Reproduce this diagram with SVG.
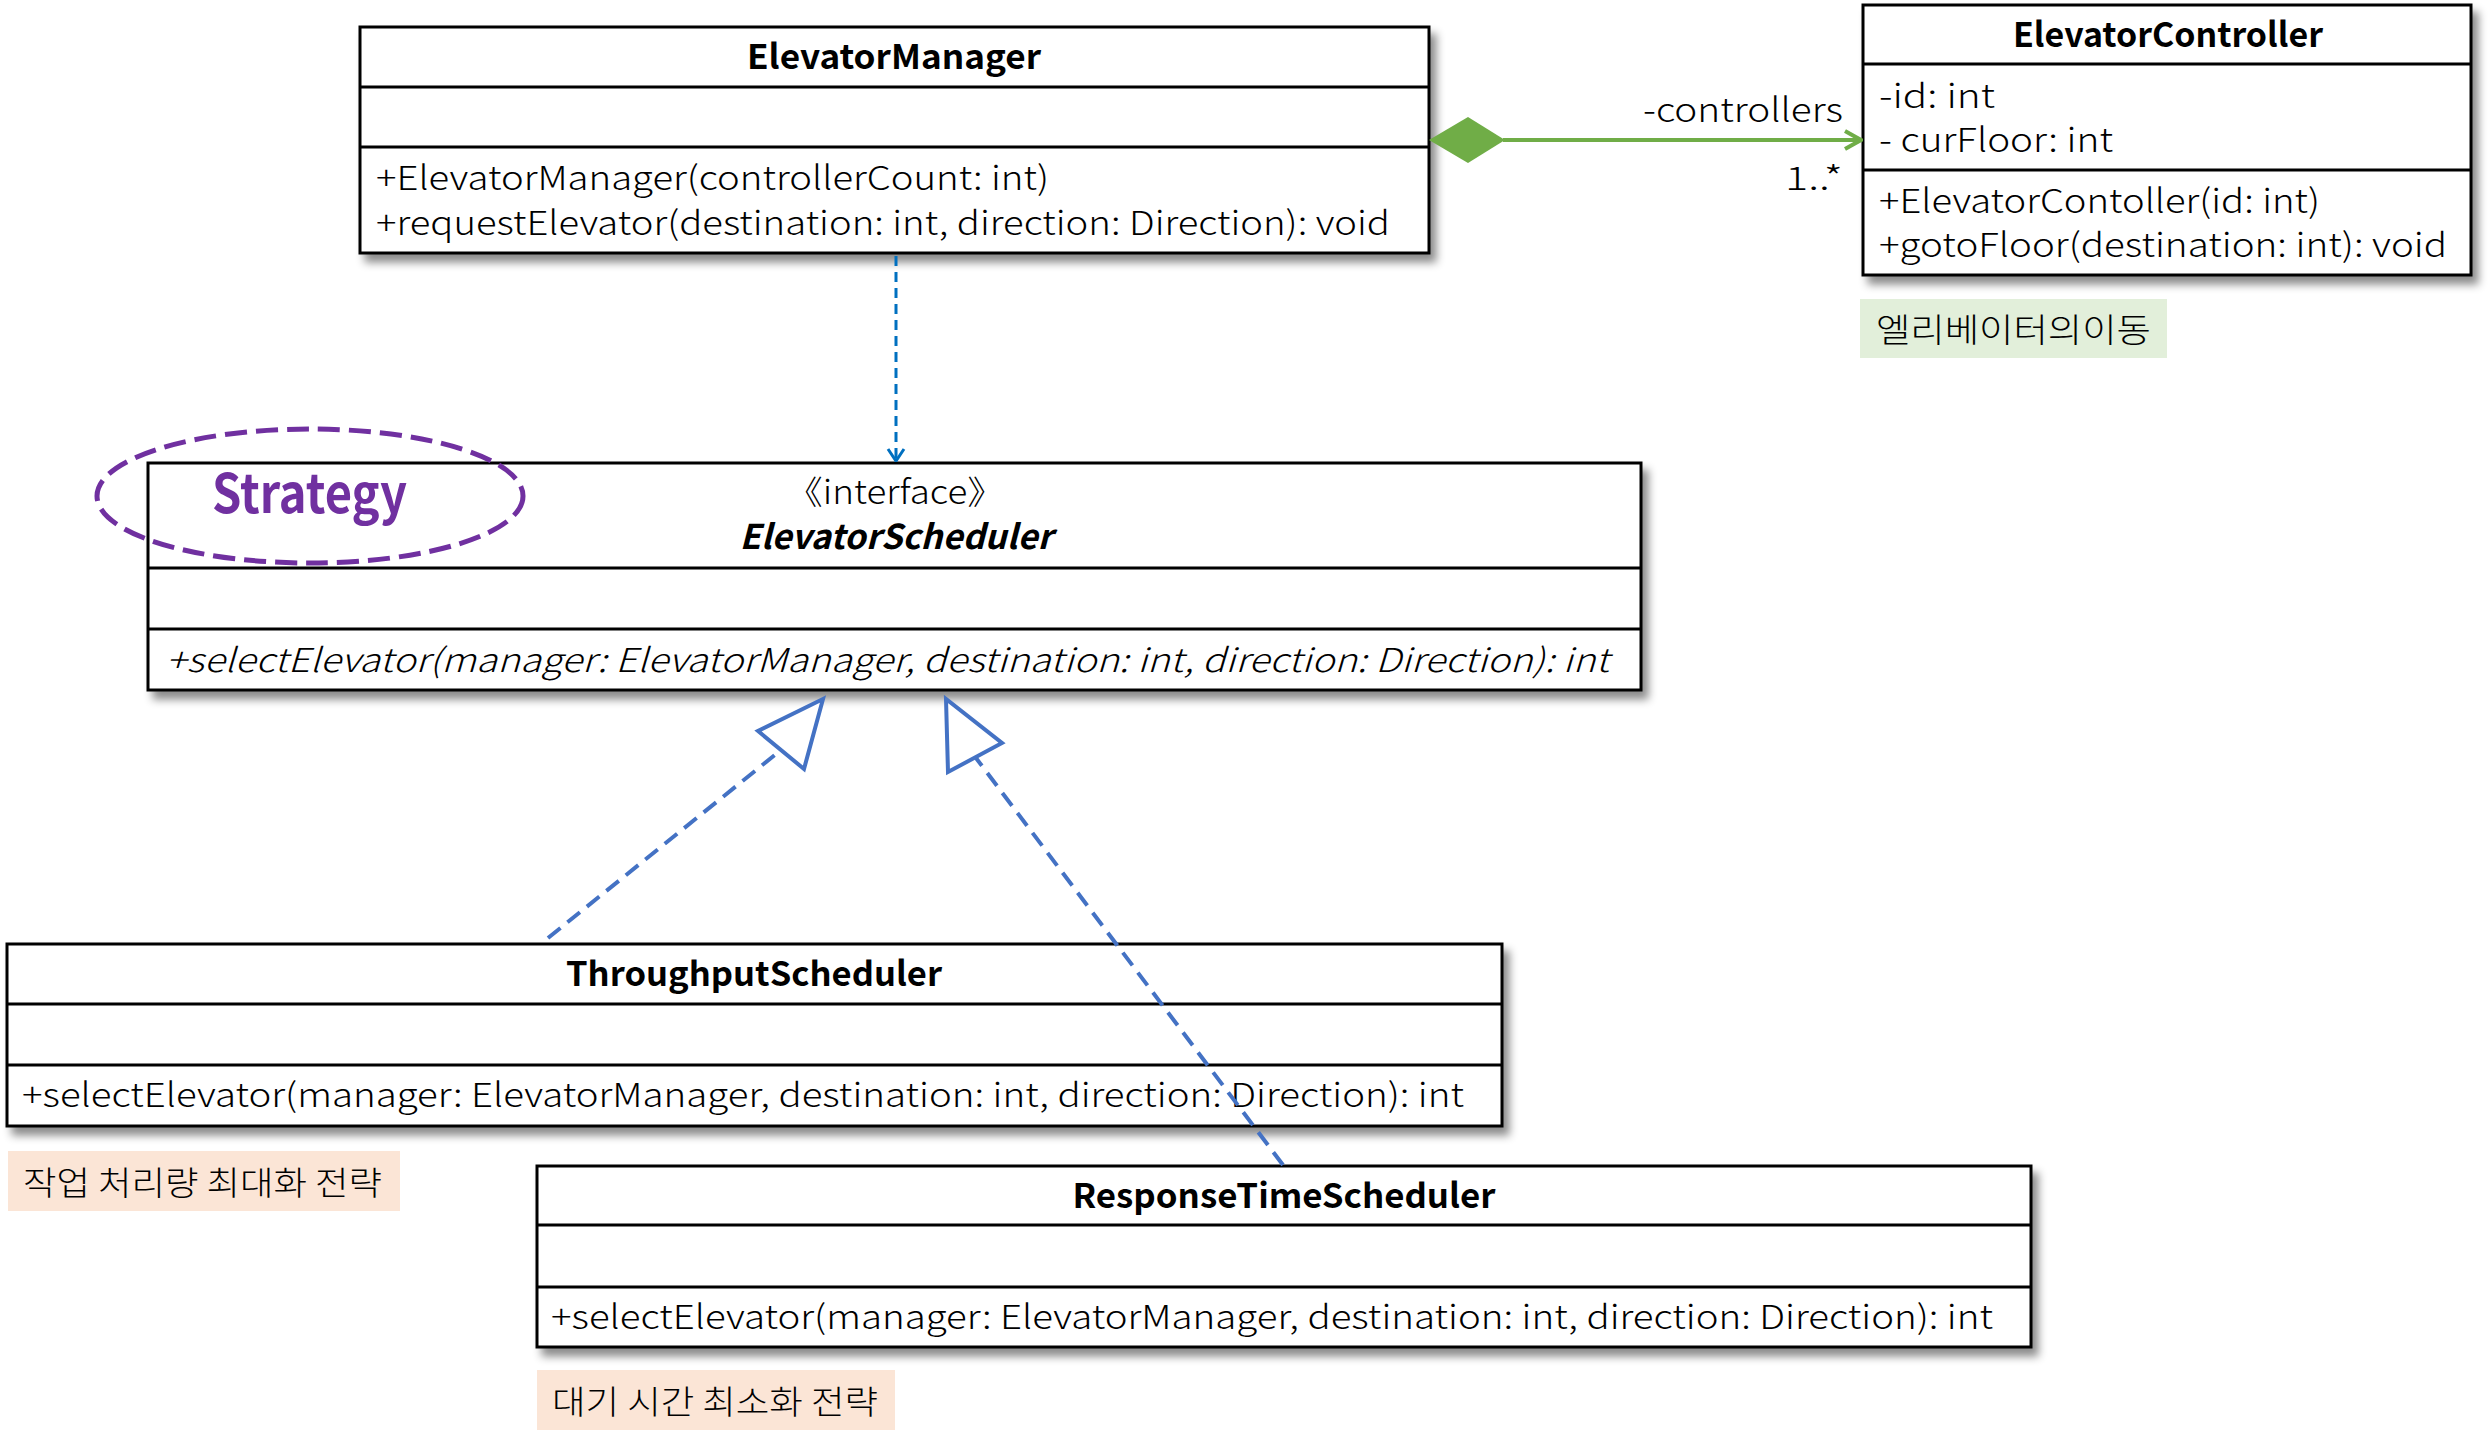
<svg xmlns="http://www.w3.org/2000/svg" width="2491" height="1446" viewBox="0 0 2491 1446">
<style>
.box{fill:#fff;stroke:#000;stroke-width:3;filter:url(#sh)}
.dv{stroke:#000;stroke-width:3}
.t{font-family:"Noto Sans CJK KR","Noto Sans",sans-serif;font-size:33px;font-weight:300;fill:#000}
.b{font-weight:bold;font-size:34px}
.i{font-style:italic}
.c{text-anchor:middle}
.real{fill:none;stroke:#4472c4;stroke-width:4;stroke-dasharray:16 9}
.tri{fill:#fff;stroke:#4472c4;stroke-width:4;stroke-linejoin:miter}
.note{stroke:none}
</style>
<defs>
<filter id="sh" x="-5%" y="-10%" width="115%" height="130%">
<feDropShadow dx="6" dy="8" stdDeviation="4" flood-color="#000" flood-opacity="0.45"/>
</filter>
<marker id="openArrow" viewBox="0 0 14 20" refX="13" refY="10" markerWidth="14" markerHeight="20" markerUnits="userSpaceOnUse" orient="auto">
<polyline points="1,2 13,10 1,18" fill="none" stroke="#0070c0" stroke-width="3"/>
</marker>
<marker id="greenArrow" viewBox="0 0 20 22" refX="18" refY="11" markerWidth="20" markerHeight="22" markerUnits="userSpaceOnUse" orient="auto">
<polyline points="2,2 18,11 2,20" fill="none" stroke="#70ad47" stroke-width="4"/>
</marker>
</defs>

<g id="ElevatorManager">
<rect class="box" x="360" y="27" width="1069" height="226"/>
<line class="dv" x1="360" y1="87" x2="1429" y2="87"/>
<line class="dv" x1="360" y1="147" x2="1429" y2="147"/>
<text class="t b c" x="894" y="69" textLength="294" lengthAdjust="spacingAndGlyphs">ElevatorManager</text>
<text class="t" x="376" y="190" textLength="673" lengthAdjust="spacingAndGlyphs">+ElevatorManager(controllerCount: int)</text>
<text class="t" x="376" y="235" textLength="1014" lengthAdjust="spacingAndGlyphs">+requestElevator(destination: int, direction: Direction): void</text>
</g>

<g id="ElevatorController">
<rect class="box" x="1863" y="5" width="608" height="270"/>
<line class="dv" x1="1863" y1="64" x2="2471" y2="64"/>
<line class="dv" x1="1863" y1="170" x2="2471" y2="170"/>
<text class="t b c" x="2168" y="47" textLength="310" lengthAdjust="spacingAndGlyphs">ElevatorController</text>
<text class="t" x="1879" y="108" textLength="116" lengthAdjust="spacingAndGlyphs">-id: int</text>
<text class="t" x="1879" y="152" textLength="234" lengthAdjust="spacingAndGlyphs">- curFloor: int</text>
<text class="t" x="1879" y="213" textLength="441" lengthAdjust="spacingAndGlyphs">+ElevatorContoller(id: int)</text>
<text class="t" x="1879" y="257" textLength="568" lengthAdjust="spacingAndGlyphs">+gotoFloor(destination: int): void</text>
</g>

<g id="note-move">
<rect class="note" x="1860" y="299" width="307" height="59" fill="#e2efda"/>
<text class="t" x="1876" y="342" textLength="275" lengthAdjust="spacingAndGlyphs">엘리베이터의이동</text>
</g>

<g id="ElevatorScheduler">
<rect class="box" x="148" y="463" width="1493" height="227"/>
<line class="dv" x1="148" y1="568" x2="1641" y2="568"/>
<line class="dv" x1="148" y1="629" x2="1641" y2="629"/>
<text class="t c" x="895" y="504" textLength="218" lengthAdjust="spacingAndGlyphs">《interface》</text>
<text class="t b i c" x="896" y="549" textLength="313" lengthAdjust="spacingAndGlyphs">ElevatorScheduler</text>
<text class="t i" x="166" y="672" textLength="1443" lengthAdjust="spacingAndGlyphs">+selectElevator(manager: ElevatorManager, destination: int, direction: Direction): int</text>
</g>

<g id="strategy-label">
<ellipse cx="310" cy="496" rx="213" ry="67" fill="none" stroke="#7030a0" stroke-width="5" stroke-dasharray="22 9"/>
<text x="212" y="513" font-family="'Noto Sans CJK KR','Noto Sans',sans-serif" font-size="54" font-weight="bold" fill="#7030a0" textLength="195" lengthAdjust="spacingAndGlyphs">Strategy</text>
</g>

<g id="ThroughputScheduler">
<rect class="box" x="7" y="944" width="1495" height="182"/>
<line class="dv" x1="7" y1="1004" x2="1502" y2="1004"/>
<line class="dv" x1="7" y1="1065" x2="1502" y2="1065"/>
<text class="t b c" x="754" y="986" textLength="376" lengthAdjust="spacingAndGlyphs">ThroughputScheduler</text>
<text class="t" x="22" y="1107" textLength="1442" lengthAdjust="spacingAndGlyphs">+selectElevator(manager: ElevatorManager, destination: int, direction: Direction): int</text>
</g>

<g id="note-throughput">
<rect class="note" x="8" y="1151" width="392" height="60" fill="#fbe5d6"/>
<text class="t" x="23" y="1195" textLength="359" lengthAdjust="spacingAndGlyphs">작업 처리량 최대화 전략</text>
</g>

<g id="ResponseTimeScheduler">
<rect class="box" x="537" y="1166" width="1494" height="181"/>
<line class="dv" x1="537" y1="1225" x2="2031" y2="1225"/>
<line class="dv" x1="537" y1="1287" x2="2031" y2="1287"/>
<text class="t b c" x="1284" y="1208" textLength="423" lengthAdjust="spacingAndGlyphs">ResponseTimeScheduler</text>
<text class="t" x="551" y="1329" textLength="1442" lengthAdjust="spacingAndGlyphs">+selectElevator(manager: ElevatorManager, destination: int, direction: Direction): int</text>
</g>

<g id="note-response">
<rect class="note" x="537" y="1370" width="358" height="60" fill="#fbe5d6"/>
<text class="t" x="552" y="1414" textLength="326" lengthAdjust="spacingAndGlyphs">대기 시간 최소화 전략</text>
</g>

<g id="connectors">
<g id="composition">
<line x1="1503" y1="140" x2="1861" y2="140" stroke="#70ad47" stroke-width="4" marker-end="url(#greenArrow)"/>
<polygon points="1429,140 1468,117 1505,140 1468,163" fill="#70ad47"/>
<text class="t" x="1843" y="122" text-anchor="end" textLength="200" lengthAdjust="spacingAndGlyphs">-controllers</text>
<text class="t" x="1843" y="190" text-anchor="end" textLength="58" lengthAdjust="spacingAndGlyphs">1..*</text>
</g>
<g id="dependency">
<line x1="896" y1="256" x2="896" y2="461" stroke="#0070c0" stroke-width="3" stroke-dasharray="10 6" marker-end="url(#openArrow)"/>
</g>
<g id="realization-throughput">
<line class="real" x1="548" y1="938" x2="781" y2="750"/>
<polygon class="tri" points="823,699 758,731 804,769"/>
</g>
<g id="realization-response">
<line class="real" x1="1283" y1="1165" x2="976" y2="758"/>
<polygon class="tri" points="946,699 948,772 1002,743"/>
</g>
</g>
</svg>
